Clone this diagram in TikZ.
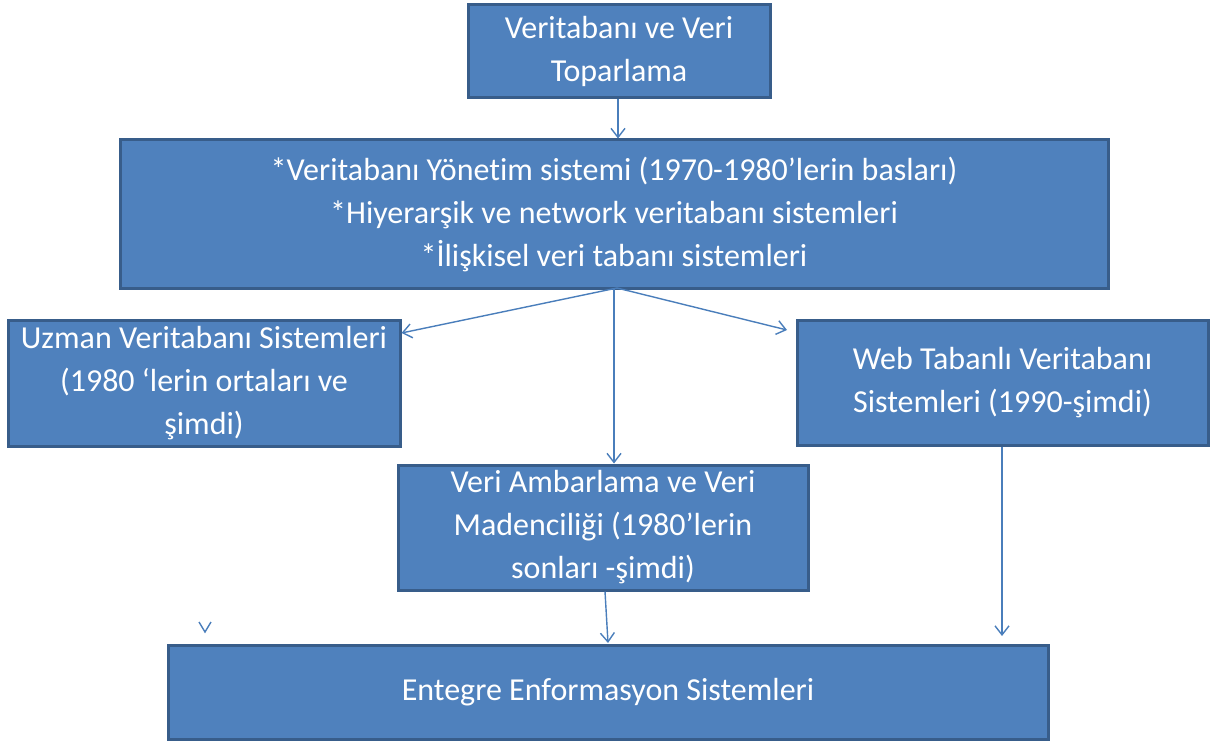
\documentclass[tikz,border=0pt]{standalone}
\usepackage{fontspec}
\setmainfont{Carlito}[RawFeature=-liga]
\usetikzlibrary{arrows.meta}
\definecolor{boxfill}{HTML}{4F81BD}
\definecolor{boxline}{HTML}{385D8A}
\definecolor{arrowc}{HTML}{4A7EBB}
\begin{document}
\begin{tikzpicture}[x=0.5pt,y=-0.5pt,
  box/.style={draw=boxline, fill=boxfill, line width=1.5pt, text=white, align=center, inner sep=0pt,
    font=\fontsize{16}{21.5}\selectfont},
  conn/.style={draw=arrowc, line width=0.7pt, -{Straight Barb[length=4.5pt,width=7pt]}}]
\useasboundingbox (0,0) rectangle (1225,743);
\node[box, minimum width=151pt, minimum height=46.5pt] (b1) at (619,51.5) {Veritabanı ve Veri\\Toparlama};
\node[box, minimum width=494pt, minimum height=74pt] (b2) at (614,214) {*Veritabanı Yönetim sistemi (1970-1980’lerin basları)\\*Hiyerarşik ve network veritabanı sistemleri\\*İlişkisel veri tabanı sistemleri};
\node[box, minimum width=196pt, minimum height=63pt] (b3) at (204,383) {Uzman Veritabanı Sistemleri\\(1980 ‘lerin ortaları ve\\şimdi)};
\node[box, minimum width=205.5pt, minimum height=62.5pt] (b4) at (1002.5,382.5) {Web Tabanlı Veritabanı\\Sistemleri (1990-şimdi)};
\node[box, minimum width=205pt, minimum height=62.5pt] (b5) at (603,527.5) {Veri Ambarlama ve Veri\\Madenciliği (1980’lerin\\sonları -şimdi)};
\node[box, minimum width=440pt, minimum height=47pt] (b6) at (608,692) {Entegre Enformasyon Sistemleri};
\coordinate (c2) at (617,288);
\draw[conn] (b1.south -| 618,0) -- (b2.north -| 618,0);
\draw[conn] (c2) -- (b3.east |- 0,333);
\draw[conn] (c2) -- (787,330);
\draw[conn] (c2 -| 614,0) -- (b5.north -| 614,0);
\draw[conn] (b5.south -| 605,0) -- (608,643);
\draw[conn] (b4.south -| 1002,0) -- (1002,636);
\draw[arrowc, line width=0.7pt] (199,622) -- (205,632) -- (211,622);
\end{tikzpicture}
\end{document}
